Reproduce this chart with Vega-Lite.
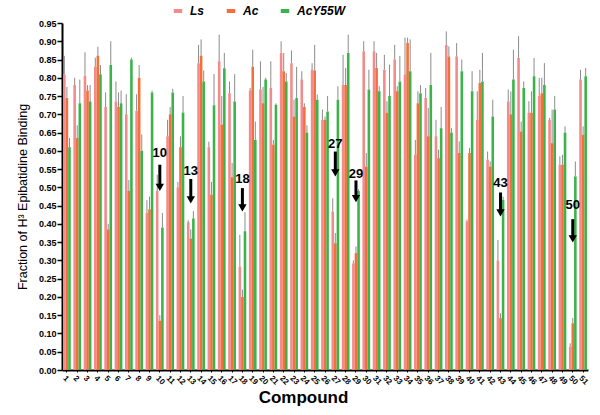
{
  "$schema": "https://vega.github.io/schema/vega-lite/v6.json",
  "autosize": "none",
  "width": 526,
  "height": 347,
  "padding": {"left": 62, "top": 23, "right": 12, "bottom": 45},
  "background": "white",
  "config": {
    "view": {"stroke": null},
    "font": "Liberation Sans",
    "axis": {"grid": false, "domainColor": "black", "tickColor": "black", "labelColor": "black", "titleColor": "black"},
    "axisY": {"tickCount": 19, "labelOverlap": false, "labelBound": false, "labelFlush": false, "labelFontSize": 9, "labelFontWeight": "bold", "labelPadding": 1, "domainWidth": 2, "tickSize": 5, "tickWidth": 1.5, "titleFontSize": 12.5, "titleFontWeight": "normal", "titlePadding": 9}
  },
  "datasets": {
    "bars": [
      {"c":1,"s":"Ls","v":0.81,"e":0.86},{"c":1,"s":"Ac","v":0.745,"e":0.775},{"c":1,"s":"AcY55W","v":0.61,"e":0.635},
      {"c":2,"s":"Ls","v":0.78,"e":0.80},{"c":2,"s":"Ac","v":0.635,"e":0.67},{"c":2,"s":"AcY55W","v":0.73,"e":0.795},
      {"c":3,"s":"Ls","v":0.805,"e":0.87},{"c":3,"s":"Ac","v":0.765,"e":0.78},{"c":3,"s":"AcY55W","v":0.735,"e":0.78},
      {"c":4,"s":"Ls","v":0.83,"e":0.855},{"c":4,"s":"Ac","v":0.86,"e":0.885},{"c":4,"s":"AcY55W","v":0.81,"e":0.835},
      {"c":5,"s":"Ls","v":0.72,"e":0.76},{"c":5,"s":"Ac","v":0.385,"e":0.40},{"c":5,"s":"AcY55W","v":0.835,"e":0.90},
      {"c":6,"s":"Ls","v":0.735,"e":0.79},{"c":6,"s":"Ac","v":0.72,"e":0.76},{"c":6,"s":"AcY55W","v":0.73,"e":0.765},
      {"c":7,"s":"Ls","v":0.70,"e":0.755},{"c":7,"s":"Ac","v":0.49,"e":0.52},{"c":7,"s":"AcY55W","v":0.85,"e":0.855},
      {"c":8,"s":"Ls","v":0.71,"e":0.755},{"c":8,"s":"Ac","v":0.80,"e":0.835},{"c":8,"s":"AcY55W","v":0.60,"e":0.645},
      {"c":9,"s":"Ls","v":0.43,"e":0.465},{"c":9,"s":"Ac","v":0.44,"e":0.475},{"c":9,"s":"AcY55W","v":0.76,"e":0.765},
      {"c":10,"s":"Ls","v":0.49,"e":0.535},{"c":10,"s":"Ac","v":0.135,"e":0.15},{"c":10,"s":"AcY55W","v":0.39,"e":0.43},
      {"c":11,"s":"Ls","v":0.64,"e":0.685},{"c":11,"s":"Ac","v":0.70,"e":0.72},{"c":11,"s":"AcY55W","v":0.76,"e":0.77},
      {"c":12,"s":"Ls","v":0.50,"e":0.515},{"c":12,"s":"Ac","v":0.61,"e":0.64},{"c":12,"s":"AcY55W","v":0.705,"e":0.75},
      {"c":13,"s":"Ls","v":0.405,"e":0.41},{"c":13,"s":"Ac","v":0.36,"e":0.385},{"c":13,"s":"AcY55W","v":0.415,"e":0.435},
      {"c":14,"s":"Ls","v":0.84,"e":0.89},{"c":14,"s":"Ac","v":0.86,"e":0.905},{"c":14,"s":"AcY55W","v":0.79,"e":0.82},
      {"c":15,"s":"Ls","v":0.61,"e":0.625},{"c":15,"s":"Ac","v":0.48,"e":0.515},{"c":15,"s":"AcY55W","v":0.725,"e":0.81},
      {"c":16,"s":"Ls","v":0.845,"e":0.918},{"c":16,"s":"Ac","v":0.672,"e":0.75},{"c":16,"s":"AcY55W","v":0.826,"e":0.868},
      {"c":17,"s":"Ls","v":0.758,"e":0.79},{"c":17,"s":"Ac","v":0.528,"e":0.567},{"c":17,"s":"AcY55W","v":0.735,"e":0.81},
      {"c":18,"s":"Ls","v":0.283,"e":0.37},{"c":18,"s":"Ac","v":0.20,"e":0.22},{"c":18,"s":"AcY55W","v":0.38,"e":0.432},
      {"c":19,"s":"Ls","v":0.765,"e":0.772},{"c":19,"s":"Ac","v":0.83,"e":0.877},{"c":19,"s":"AcY55W","v":0.63,"e":0.68},
      {"c":20,"s":"Ls","v":0.768,"e":0.845},{"c":20,"s":"Ac","v":0.73,"e":0.775},{"c":20,"s":"AcY55W","v":0.795,"e":0.80},
      {"c":21,"s":"Ls","v":0.772,"e":0.845},{"c":21,"s":"Ac","v":0.617,"e":0.63},{"c":21,"s":"AcY55W","v":0.726,"e":0.73},
      {"c":22,"s":"Ls","v":0.868,"e":0.90},{"c":22,"s":"Ac","v":0.818,"e":0.868},{"c":22,"s":"AcY55W","v":0.79,"e":0.813},
      {"c":23,"s":"Ls","v":0.84,"e":0.875},{"c":23,"s":"Ac","v":0.694,"e":0.74},{"c":23,"s":"AcY55W","v":0.745,"e":0.83},
      {"c":24,"s":"Ls","v":0.795,"e":0.818},{"c":24,"s":"Ac","v":0.72,"e":0.73},{"c":24,"s":"AcY55W","v":0.65,"e":0.67},
      {"c":25,"s":"Ls","v":0.822,"e":0.84},{"c":25,"s":"Ac","v":0.82,"e":0.89},{"c":25,"s":"AcY55W","v":0.74,"e":0.754},
      {"c":26,"s":"Ls","v":0.685,"e":0.713},{"c":26,"s":"Ac","v":0.685,"e":0.694},{"c":26,"s":"AcY55W","v":0.708,"e":0.75},
      {"c":27,"s":"Ls","v":0.434,"e":0.47},{"c":27,"s":"Ac","v":0.347,"e":0.375},{"c":27,"s":"AcY55W","v":0.74,"e":0.777},
      {"c":28,"s":"Ls","v":0.78,"e":0.863},{"c":28,"s":"Ac","v":0.78,"e":0.827},{"c":28,"s":"AcY55W","v":0.868,"e":0.918},
      {"c":29,"s":"Ls","v":0.292,"e":0.30},{"c":29,"s":"Ac","v":0.32,"e":0.338},{"c":29,"s":"AcY55W","v":0.49,"e":0.495},
      {"c":30,"s":"Ls","v":0.873,"e":0.90},{"c":30,"s":"Ac","v":0.557,"e":0.594},{"c":30,"s":"AcY55W","v":0.768,"e":0.822},
      {"c":31,"s":"Ls","v":0.873,"e":0.90},{"c":31,"s":"Ac","v":0.827,"e":0.868},{"c":31,"s":"AcY55W","v":0.763,"e":0.777},
      {"c":32,"s":"Ls","v":0.822,"e":0.863},{"c":32,"s":"Ac","v":0.704,"e":0.736},{"c":32,"s":"AcY55W","v":0.75,"e":0.836},
      {"c":33,"s":"Ls","v":0.85,"e":0.89},{"c":33,"s":"Ac","v":0.763,"e":0.777},{"c":33,"s":"AcY55W","v":0.79,"e":0.86},
      {"c":34,"s":"Ls","v":0.809,"e":0.91},{"c":34,"s":"Ac","v":0.895,"e":0.91},{"c":34,"s":"AcY55W","v":0.818,"e":0.905},
      {"c":35,"s":"Ls","v":0.59,"e":0.63},{"c":35,"s":"Ac","v":0.73,"e":0.763},{"c":35,"s":"AcY55W","v":0.758,"e":0.78},
      {"c":36,"s":"Ls","v":0.745,"e":0.772},{"c":36,"s":"Ac","v":0.64,"e":0.717},{"c":36,"s":"AcY55W","v":0.78,"e":0.868},
      {"c":37,"s":"Ls","v":0.64,"e":0.685},{"c":37,"s":"Ac","v":0.58,"e":0.603},{"c":37,"s":"AcY55W","v":0.662,"e":0.72},
      {"c":38,"s":"Ls","v":0.89,"e":0.927},{"c":38,"s":"Ac","v":0.858,"e":0.886},{"c":38,"s":"AcY55W","v":0.65,"e":0.662},
      {"c":39,"s":"Ls","v":0.858,"e":0.895},{"c":39,"s":"Ac","v":0.594,"e":0.626},{"c":39,"s":"AcY55W","v":0.818,"e":0.85},
      {"c":40,"s":"Ls","v":0.407,"e":0.412},{"c":40,"s":"Ac","v":0.594,"e":0.608},{"c":40,"s":"AcY55W","v":0.763,"e":0.818},
      {"c":41,"s":"Ls","v":0.685,"e":0.763},{"c":41,"s":"Ac","v":0.786,"e":0.822},{"c":41,"s":"AcY55W","v":0.79,"e":0.868},
      {"c":42,"s":"Ls","v":0.576,"e":0.598},{"c":42,"s":"Ac","v":0.557,"e":0.571},{"c":42,"s":"AcY55W","v":0.694,"e":0.74},
      {"c":43,"s":"Ls","v":0.30,"e":0.356},{"c":43,"s":"Ac","v":0.142,"e":0.155},{"c":43,"s":"AcY55W","v":0.466,"e":0.475},
      {"c":44,"s":"Ls","v":0.735,"e":0.768},{"c":44,"s":"Ac","v":0.70,"e":0.763},{"c":44,"s":"AcY55W","v":0.795,"e":0.877},
      {"c":45,"s":"Ls","v":0.854,"e":0.914},{"c":45,"s":"Ac","v":0.653,"e":0.68},{"c":45,"s":"AcY55W","v":0.772,"e":0.79},
      {"c":46,"s":"Ls","v":0.704,"e":0.736},{"c":46,"s":"Ac","v":0.704,"e":0.763},{"c":46,"s":"AcY55W","v":0.804,"e":0.854},
      {"c":47,"s":"Ls","v":0.75,"e":0.80},{"c":47,"s":"Ac","v":0.758,"e":0.80},{"c":47,"s":"AcY55W","v":0.78,"e":0.84},
      {"c":48,"s":"Ls","v":0.685,"e":0.69},{"c":48,"s":"Ac","v":0.621,"e":0.713},{"c":48,"s":"AcY55W","v":0.713,"e":0.75},
      {"c":49,"s":"Ls","v":0.562,"e":0.585},{"c":49,"s":"Ac","v":0.562,"e":0.589},{"c":49,"s":"AcY55W","v":0.65,"e":0.667},
      {"c":50,"s":"Ls","v":0.064,"e":0.073},{"c":50,"s":"Ac","v":0.128,"e":0.142},{"c":50,"s":"AcY55W","v":0.53,"e":0.571},
      {"c":51,"s":"Ls","v":0.795,"e":0.822},{"c":51,"s":"Ac","v":0.644,"e":0.667},{"c":51,"s":"AcY55W","v":0.804,"e":0.827}
    ],
    "ann": [
      {"c":10,"label":"10","t":0.595,"top":0.562,"head":0.50,"tip":0.488},
      {"c":13,"label":"13","t":0.544,"top":0.523,"head":0.466,"tip":0.452},
      {"c":18,"label":"18","t":0.522,"top":0.498,"head":0.444,"tip":0.43},
      {"c":27,"label":"27","t":0.62,"top":0.598,"head":0.54,"tip":0.525},
      {"c":29,"label":"29","t":0.537,"top":0.519,"head":0.469,"tip":0.454},
      {"c":43,"label":"43","t":0.513,"top":0.486,"head":0.43,"tip":0.416},
      {"c":50,"label":"50","t":0.453,"top":0.413,"head":0.359,"tip":0.345}
    ]
  },
  "encoding": {
    "x": {
      "field": "c", "type": "ordinal",
      "scale": {"paddingInner": 0.25, "paddingOuter": 0.1},
      "axis": {
        "title": "Compound", "titleFontSize": 17, "titleFontWeight": "bold", "titlePadding": 4, "titleX": 241,
        "labelAngle": 45, "labelFontSize": 8, "labelFontWeight": "bold", "labelPadding": 2, "labelOverlap": false,
        "domainWidth": 2, "tickSize": 2, "tickWidth": 1
      }
    }
  },
  "layer": [
    {
      "data": {"name": "bars"},
      "mark": {"type": "bar"},
      "encoding": {
        "xOffset": {"field": "s", "type": "nominal", "sort": ["Ls", "Ac", "AcY55W"], "scale": {"domain": ["Ls", "Ac", "AcY55W"]}},
        "y": {
          "field": "v", "type": "quantitative",
          "scale": {"domain": [0, 0.95], "nice": false, "zero": true},
          "axis": {"title": "Fraction of H³ Epibatidine Binding"}
        },
        "color": {
          "field": "s", "type": "nominal",
          "scale": {"domain": ["Ls", "Ac", "AcY55W"], "range": ["#F28B8B", "#F46F3A", "#3BB34A"]},
          "legend": {
            "title": null, "orient": "none", "direction": "horizontal", "legendX": 110, "legendY": -18,
            "labelFontSize": 12, "labelFontWeight": "bold", "labelFontStyle": "italic", "labelOffset": 6,
            "columnPadding": 20,
            "symbolType": "M-1,-0.47H1V0.47H-1Z", "symbolSize": 72, "symbolStrokeWidth": 0
          }
        }
      }
    },
    {
      "data": {"name": "bars"},
      "mark": {"type": "rule", "color": "#8c8c8c", "strokeWidth": 1},
      "encoding": {
        "xOffset": {"field": "s", "type": "nominal", "sort": ["Ls", "Ac", "AcY55W"]},
        "y": {"field": "v", "type": "quantitative"},
        "y2": {"field": "e"}
      }
    },
    {
      "data": {"name": "ann"},
      "mark": {"type": "rule", "color": "black", "strokeWidth": 3},
      "encoding": {
        "y": {"field": "top", "type": "quantitative"},
        "y2": {"field": "head"}
      }
    },
    {
      "data": {"name": "ann"},
      "mark": {"type": "point", "shape": "triangle-down", "filled": true, "color": "black", "size": 70, "opacity": 1},
      "encoding": {
        "y": {"field": "head", "type": "quantitative"}
      }
    },
    {
      "data": {"name": "ann"},
      "mark": {"type": "text", "fontSize": 13, "fontWeight": "bold", "color": "black", "baseline": "middle"},
      "encoding": {
        "y": {"field": "t", "type": "quantitative"},
        "text": {"field": "label"}
      }
    }
  ]
}
